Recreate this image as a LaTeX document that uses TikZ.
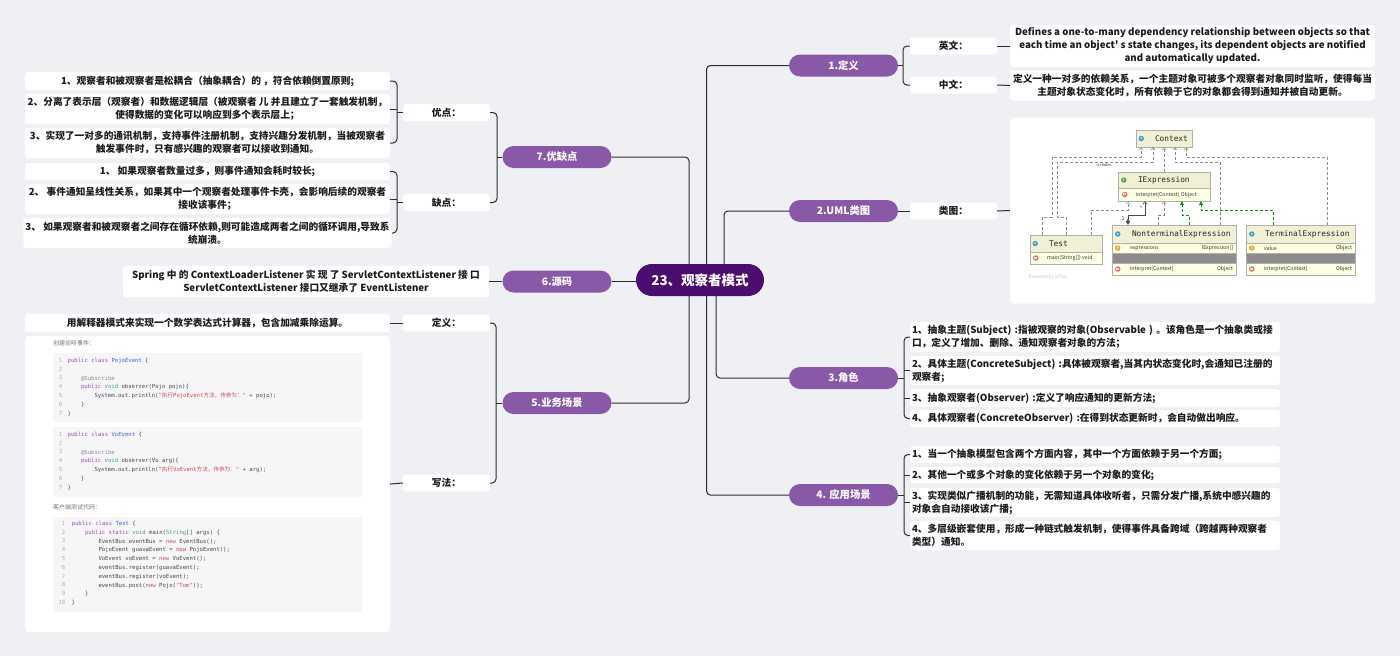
\documentclass[tikz,border=0pt]{standalone}
\usepackage{fontspec}
\setmainfont{Noto Sans CJK SC}
\setmonofont{DejaVu Sans Mono}
\usetikzlibrary{arrows.meta,positioning}
\definecolor{bgcol}{RGB}{239,240,244}
\definecolor{topiccol}{RGB}{74,12,110}
\definecolor{branchcol}{RGB}{137,88,166}
\definecolor{linecol}{RGB}{45,45,45}
\definecolor{textcol}{RGB}{28,28,28}
\definecolor{umlhead}{RGB}{240,240,212}
\definecolor{umlrow}{RGB}{255,255,228}
\definecolor{umledge}{RGB}{175,175,175}
\definecolor{umlarrow}{RGB}{140,140,140}
\definecolor{umlgreen}{RGB}{20,140,30}
\definecolor{iconc}{RGB}{70,160,200}
\definecolor{iconi}{RGB}{95,160,90}
\definecolor{iconm}{RGB}{225,110,120}
\definecolor{iconf}{RGB}{230,165,60}
\definecolor{codebg}{RGB}{246,246,248}
\definecolor{codenum}{RGB}{175,175,175}
\definecolor{codeplain}{RGB}{70,70,70}
\definecolor{codekw}{RGB}{150,80,180}
\definecolor{codety}{RGB}{70,160,120}
\definecolor{codecls}{RGB}{60,95,215}
\definecolor{codestr}{RGB}{195,80,80}
\definecolor{codeann}{RGB}{140,140,140}
\newcommand\zhtxt[1]{{\rmfamily\mdseries #1}}
\newcommand\ckw[1]{\textcolor{codekw}{#1}}
\newcommand\cty[1]{\textcolor{codety}{#1}}
\newcommand\ccls[1]{\textcolor{codecls}{#1}}
\newcommand\cstr[1]{\textcolor{codestr}{#1}}
\newcommand\cnew[1]{\textcolor{codestr}{#1}}
\newcommand\cann[1]{\textcolor{codeann}{#1}}
\newcommand\cind{\hspace*{13.4pt}}
\tikzset{
  topic node/.style={fill=topiccol,text=white,rounded corners=16pt,minimum width=128pt,minimum height=32pt,inner sep=0pt,font=\fontsize{13.5}{16}\selectfont\bfseries},
  branch node/.style={fill=branchcol,text=white,rounded corners=11pt,minimum width=109pt,minimum height=22pt,inner sep=0pt,font=\fontsize{10.3}{12}\selectfont\bfseries},
  tag node/.style={fill=white,rounded corners=3pt,minimum width=87pt,minimum height=17pt,inner sep=0pt,text=textcol,font=\fontsize{9.7}{11}\selectfont\bfseries},
  leaf node/.style={fill=white,rounded corners=3pt,inner xsep=2pt,inner ysep=1pt,text=textcol,font=\fontsize{9.7}{13}\selectfont\bfseries},
  mid leaf/.style={leaf node,align=center,minimum width=365pt},
  left leaf/.style={leaf node,align=left,text width=366pt},
  panel box/.style={fill=white,rounded corners=4pt,inner sep=0pt},
  link/.style={draw=linecol,line width=1pt,rounded corners=4pt},
  uml box/.style={draw=umledge,line width=0.4pt,inner sep=0pt},
  uml head/.style={uml box,fill=umlhead},
  uml row/.style={uml box,fill=umlrow},
  uml bar/.style={uml box,fill=black!45},
  uml title/.style={inner sep=0pt,text=black!85,font=\ttfamily\fontsize{7.8}{9}\selectfont},
  uml text/.style={inner sep=0pt,text=black!80,font=\fontsize{5.2}{6}\selectfont},
  uml icon/.style={circle,inner sep=0pt,minimum size=5.5pt,text=white,font=\fontsize{3.6}{4}\selectfont\bfseries},
  uml dep/.style={draw=umlarrow,densely dashed,line width=0.5pt,-{Straight Barb[length=2.5pt,width=4.5pt]}},
  uml real/.style={draw=umlgreen,densely dashed,line width=0.5pt,-{Triangle[length=4pt,width=4pt]}},
  uml comp/.style={draw=black!70,line width=0.6pt,{Diamond[length=6pt,width=4pt]}-{Straight Barb[length=2.5pt,width=4.5pt]}},
  code box/.style={fill=codebg,rounded corners=2pt,inner sep=0pt},
  code nums/.style={inner sep=0pt,align=right,text=codenum,font=\ttfamily\fontsize{5.6}{8.8}\selectfont},
  code text/.style={inner sep=0pt,align=left,text=codeplain,font=\ttfamily\fontsize{5.6}{8.8}\selectfont},
  code note/.style={inner sep=0pt,text=black!55,font=\fontsize{6}{7}\selectfont},
}

\begin{document}
\begin{tikzpicture}[x=1pt,y=-1pt]
  \fill[bgcol] (0,0) rectangle (1400,656);
  \useasboundingbox (0,0) rectangle (1400,656);

  % centre and the seven branches
  \node[topic node] (topic) at (700,280) {23、观察者模式};
  \node[branch node] (def) at (843.5,65.5) {1.定义};
  \node[branch node] (uml) at (843.5,211) {2.UML类图};
  \node[branch node] (role) at (843.5,378) {3.角色};
  \node[branch node] (app) at (843.5,495) {4. 应用场景};
  \node[branch node] (biz) at (557,403) {5.业务场景};
  \node[branch node] (src) at (557,281.5) {6.源码};
  \node[branch node] (pc) at (557,157) {7.优缺点};

  \coordinate (tA) at (689,0);
  \coordinate (tB) at (706.5,0);
  \coordinate (tC) at (716,0);
  \coordinate (tD) at (724,0);
  \draw[link] (topic.north -| tB) |- (def.west);
  \draw[link] (topic.north -| tD) |- (uml.west);
  \draw[link] (topic.south -| tC) |- (role.west);
  \draw[link] (topic.south -| tB) |- (app.west);
  \draw[link] (topic.north -| tA) |- (pc.east);
  \draw[link] (topic.south -| tA) |- (biz.east);
  \draw[link] (src.east) -- (topic.west |- src.east);

  % 1. definition
  \node[tag node] (en) at (953.5,46) {英文：};
  \node[tag node] (cn) at (953.5,85) {中文：};
  \node[mid leaf,minimum height=42pt] (entxt) at (1192.5,46) {Defines a one-to-many dependency relationship between objects so that\\each time an object\textquotesingle{} s state changes, its dependent objects are notified\\and automatically updated.};
  \node[mid leaf,minimum height=30pt] (cntxt) at (1192.5,85.5) {定义一种一对多的依赖关系，一个主题对象可被多个观察者对象同时监听，使得每当\\主题对象状态变化时，所有依赖于它的对象都会得到通知并被自动更新。};
  \coordinate (j1) at (903,0);
  \draw[link] (en.west) -| (j1 |- cn.west) -- (cn.west);
  \draw[link] (def.east) -- (j1 |- def.east);
  \draw[link] (en.east) -- (entxt.west);
  \draw[link] (cn.east) -- (cntxt.west);

  % 2. class diagram
  \node[tag node] (umltag) at (953.5,211) {类图：};
  \node[panel box,minimum width=365pt,minimum height=186pt] (umlp) at (1192.5,210.5) {};
  \draw[link] (uml.east) -- (umltag.west);
  \draw[link] (umltag.east) -- (umlp.west);

  \node[uml head,minimum width=56pt,minimum height=17pt] (ctx) at (1164,138.5) {};
  \node[uml icon,fill=iconc,right=2.5pt of ctx.west] {c};
  \node[uml title,right=19pt of ctx.west] {Context};
  \node[uml head,minimum width=92pt,minimum height=16pt] (iexh) at (1164,180) {};
  \node[uml icon,fill=iconi,right=3pt of iexh.west] {I};
  \node[uml title,right=20pt of iexh.west] {IExpression};
  \node[uml row,minimum width=92pt,minimum height=13pt] (iexr) at (1164,194.5) {};
  \node[uml icon,fill=iconm,right=4pt of iexr.west] {m};
  \node[uml text,right=18pt of iexr.west] {interpret(Context) Object};

  \node[uml head,minimum width=72pt,minimum height=17pt] (tsth) at (1066,243.5) {};
  \node[uml icon,fill=iconc,right=2.5pt of tsth.west] {c};
  \node[uml title,right=19pt of tsth.west] {Test};
  \node[uml row,minimum width=72pt,minimum height=12pt] (tstr) at (1066,258) {};
  \node[uml icon,fill=iconm,right=3pt of tstr.west] {m};
  \node[uml text,right=17pt of tstr.west] {main(String[]) void};

  \node[uml head,minimum width=124pt,minimum height=18pt] (nonh) at (1174,234) {};
  \node[uml icon,fill=iconc,right=3pt of nonh.west] {c};
  \node[uml title,right=20pt of nonh.west] {NonterminalExpression};
  \node[uml row,minimum width=124pt,minimum height=10pt] (non1) at (1174,248) {};
  \node[uml icon,fill=iconf,right=3pt of non1.west] {f};
  \node[uml text,right=18pt of non1.west] {expressions};
  \node[uml text,left=3pt of non1.east] {IExpression[]};
  \node[uml bar,minimum width=124pt,minimum height=10pt] (nonb) at (1174,258) {};
  \node[uml row,minimum width=124pt,minimum height=12pt] (non3) at (1174,269) {};
  \node[uml icon,fill=iconm,right=3pt of non3.west] {m};
  \node[uml text,right=18pt of non3.west] {interpret(Context)};
  \node[uml text,left=3pt of non3.east] {Object};

  \node[uml head,minimum width=109pt,minimum height=18pt] (terh) at (1300.5,234) {};
  \node[uml icon,fill=iconc,right=3pt of terh.west] {c};
  \node[uml title,right=19pt of terh.west] {TerminalExpression};
  \node[uml row,minimum width=109pt,minimum height=10pt] (ter1) at (1300.5,248) {};
  \node[uml icon,fill=iconf,right=3pt of ter1.west] {f};
  \node[uml text,right=18pt of ter1.west] {value};
  \node[uml text,left=3pt of ter1.east] {Object};
  \node[uml bar,minimum width=109pt,minimum height=10pt] (terb) at (1300.5,258) {};
  \node[uml row,minimum width=109pt,minimum height=12pt] (ter3) at (1300.5,269) {};
  \node[uml icon,fill=iconm,right=3pt of ter3.west] {m};
  \node[uml text,right=18pt of ter3.west] {interpret(Context)};
  \node[uml text,left=3pt of ter3.east] {Object};

  \node[uml text,text=black!22,font=\fontsize{4.6}{5}\selectfont] (yfiles) at (1048,277) {Powered by yFiles};
  \node[uml text,font=\fontsize{4}{5}\selectfont] (crt) at (1104,165.5) {«create»};
  \node[uml text] (one) at (1123,219) {1};
  \node[uml text] (many) at (1141,208) {*};

  \draw[uml dep] (tsth.north -| 1042,0) |- (1052,217) |- (1141,157) -- (ctx.south -| 1141,0);
  \draw[uml dep] (tsth.north -| 1066,0) |- (1057,217) |- (1153,162) -- (ctx.south -| 1153,0);
  \draw[uml dep] (tsth.north -| 1091,0) |- (1128,210) -- (iexr.south -| 1128,0);
  \draw[uml dep] (iexh.north) -- (ctx.south);
  \draw[uml dep] (nonh.north -| 1158,0) |- (1164,215) -- (iexr.south -| 1164,0);
  \draw[uml comp] (nonh.north -| 1128,0) |- (1145,215) -- (iexr.south -| 1145,0);
  \draw[uml real] (nonh.north -| 1189,0) |- (1182,215) -- (iexr.south -| 1182,0);
  \draw[uml real] (terh.north -| 1273,0) |- (1201,210) -- (iexr.south -| 1201,0);
  \draw[uml dep] (nonh.north -| 1220,0) |- (1175,162) -- (ctx.south -| 1175,0);
  \draw[uml dep] (terh.north -| 1327,0) |- (1186,157) -- (ctx.south -| 1186,0);

  % 3. roles
  \node[left leaf,minimum height=30pt] (r1) at (1095,337) {\mbox{1、抽象主题(Subject) :指被观察的对象(Observable ) 。该角色是一个抽象类或接}\\口，定义了增加、删除、通知观察者对象的方法；};
  \node[left leaf,minimum height=29pt] (r2) at (1095,370.5) {\mbox{2、具体主题(ConcreteSubject) :具体被观察者,当其内状态变化时,会通知已注册的}\\观察者;};
  \node[left leaf,minimum height=18pt] (r3) at (1095,398) {\mbox{3、抽象观察者(Observer) :定义了响应通知的更新方法;}};
  \node[left leaf,minimum height=17pt] (r4) at (1095,418.5) {\mbox{4、具体观察者(ConcreteObserver) :在得到状态更新时，会自动做出响应。}};
  \coordinate (j3) at (904,0);
  \draw[link] (r1.west) -| (j3 |- r4.west) -- (r4.west);
  \foreach \c in {r2,r3} \draw[link] (j3 |- \c.west) -- (\c.west);
  \draw[link] (role.east) -- (j3 |- role.east);

  % 4. where to use it
  \node[left leaf,minimum height=17pt] (a1) at (1095,454.5) {\mbox{1、当一个抽象模型包含两个方面内容，其中一个方面依赖于另一个方面;}};
  \node[left leaf,minimum height=16pt] (a2) at (1095,475) {\mbox{2、其他一个或多个对象的变化依赖于另一个对象的变化;}};
  \node[left leaf,minimum height=29pt] (a3) at (1095,502.5) {\mbox{3、实现类似广播机制的功能，无需知道具体收听者，只需分发广播,系统中感兴趣的}\\对象会自动接收该广播;};
  \node[left leaf,minimum height=29pt] (a4) at (1095,535.5) {\mbox{4、多层级嵌套使用，形成一种链式触发机制，使得事件具备跨域（跨越两种观察者}\\类型）通知。};
  \coordinate (j4) at (904,0);
  \draw[link] (a1.west) -| (j4 |- a4.west) -- (a4.west);
  \foreach \c in {a2,a3} \draw[link] (j4 |- \c.west) -- (\c.west);
  \draw[link] (app.east) -- (j4 |- app.east);

  % 7. pros and cons
  \node[tag node] (pros) at (446.5,112.5) {优点：};
  \node[tag node] (cons) at (446.5,202.5) {缺点：};
  \node[mid leaf,minimum height=18pt] (p1) at (207.5,81) {1、观察者和被观察者是松耦合（抽象耦合）的 ，符合依赖倒置原则;};
  \node[mid leaf,minimum height=30pt] (p2) at (207.5,109) {2、分离了表示层（观察者）和数据逻辑层（被观察者 儿 并且建立了一套触发机制，\\使得数据的变化可以响应到多个表示层上；};
  \node[mid leaf,minimum height=30pt] (p3) at (207.5,143) {3、实现了一对多的通讯机制，支持事件注册机制，支持兴趣分发机制，当被观察者\\触发事件时，只有感兴趣的观察者可以接收到通知。};
  \node[mid leaf,minimum height=17pt] (n1) at (207.5,171.5) {1、 如果观察者数量过多，则事件通知会耗时较长;};
  \node[mid leaf,minimum height=30pt] (n2) at (207.5,199) {2、 事件通知呈线性关系，如果其中一个观察者处理事件卡壳，会影响后续的观察者\\接收该事件；};
  \node[mid leaf,minimum height=30pt] (n3) at (207.5,233) {3、 如果观察者和被观察者之间存在循环依赖,则可能造成两者之间的循环调用,导致系\\统崩溃。};
  \coordinate (j7) at (497,0);
  \coordinate (jp) at (397,0);
  \draw[link] (pros.east) -| (j7 |- cons.east) -- (cons.east);
  \draw[link] (pc.west) -- (j7 |- pc.west);
  \draw[link] (p1.east) -| (jp |- p3.east) -- (p3.east);
  \draw[link] (jp |- p2.east) -- (p2.east);
  \draw[link] (pros.west) -- (jp |- pros.west);
  \draw[link] (n1.east) -| (jp |- n3.east) -- (n3.east);
  \draw[link] (jp |- n2.east) -- (n2.east);
  \draw[link] (cons.west) -- (jp |- cons.west);

  % 6. source
  \node[mid leaf,minimum width=366pt,minimum height=31pt] (srctxt) at (306,281.5) {Spring 中 的 ContextLoaderListener 实 现 了 ServletContextListener 接 口\\ServletContextListener 接口又继承了 EventListener};
  \draw[link] (src.west) -- (srctxt.east);

  % 5. business case
  \node[tag node] (bdef) at (446.5,323) {定义：};
  \node[tag node] (bhow) at (446.5,483) {写法：};
  \node[mid leaf,minimum height=18pt] (bdtxt) at (207.5,323) {用解释器模式来实现一个数学表达式计算器，包含加减乘除运算。};
  \node[panel box,minimum width=365pt,minimum height=296pt] (bpanel) at (207.5,484) {};
  \coordinate (j5) at (496,0);
  \draw[link] (bdef.east) -| (j5 |- bhow.east) -- (bhow.east);
  \draw[link] (biz.west) -- (j5 |- biz.west);
  \draw[link] (bdef.west) -- (bdtxt.east);
  \draw[link] (bhow.west) -- (bpanel.east);

  \node[code note,anchor=west] (note1) at (53,343) {创建侦听事件：};
  \node[code box,minimum width=309pt,minimum height=69pt] (cb1) at (207.5,387.5) {};
  \node[code nums,anchor=north east] (num1) at (62.5,358) {1\\2\\3\\4\\5\\6\\7};
  \node[code text,anchor=north west] (code1) at (67.5,358) {\ckw{public} \ckw{class} \ccls{PojoEvent} \{\\\mbox{}\\
    \cind\cann{@Subscribe}\\
    \cind\ckw{public} \cty{void} observer(Pojo pojo)\{\\
    \cind\cind System.out.println(\cstr{"\zhtxt{执行}PojoEvent\zhtxt{方法，传参为：}"} + pojo);\\
    \cind\}\\
    \}};

  \node[code box,minimum width=309pt,minimum height=70pt] (cb2) at (207.5,462) {};
  \node[code nums,anchor=north east] (num2) at (62.5,432) {1\\2\\3\\4\\5\\6\\7};
  \node[code text,anchor=north west] (code2) at (67.5,432) {\ckw{public} \ckw{class} \ccls{VoEvent} \{\\\mbox{}\\
    \cind\cann{@Subscribe}\\
    \cind\ckw{public} \cty{void} observer(Vo arg)\{\\
    \cind\cind System.out.println(\cstr{"\zhtxt{执行}VoEvent\zhtxt{方法，传参为：}"} + arg);\\
    \cind\}\\
    \}};

  \node[code note,anchor=west] (note2) at (53,507) {客户端测试代码：};
  \node[code box,minimum width=309pt,minimum height=95pt] (cb3) at (207.5,564.5) {};
  \node[code nums,anchor=north east] (num3) at (65.5,521) {1\\2\\3\\4\\5\\6\\7\\8\\9\\10};
  \node[code text,anchor=north west] (code3) at (71.5,521) {\ckw{public} \ckw{class} \ccls{Test} \{\\
    \cind\ckw{public} \ckw{static} \cty{void} main(\cty{String}[] args) \{\\
    \cind\cind EventBus eventBus = \cnew{new} EventBus();\\
    \cind\cind PojoEvent guavaEvent = \cnew{new} PojoEvent();\\
    \cind\cind VoEvent voEvent = \cnew{new} VoEvent();\\
    \cind\cind eventBus.register(guavaEvent);\\
    \cind\cind eventBus.register(voEvent);\\
    \cind\cind eventBus.post(\cnew{new} Pojo(\cstr{"Tom"}));\\
    \cind\}\\
    \}};
\end{tikzpicture}
\end{document}
